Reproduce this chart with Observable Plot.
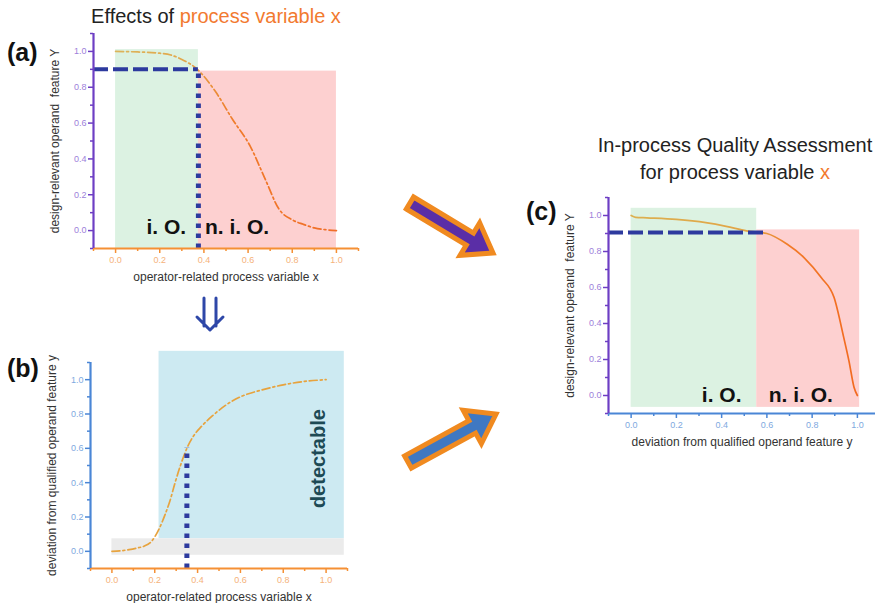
<!DOCTYPE html>
<html><head><meta charset="utf-8">
<script src="https://cdn.jsdelivr.net/npm/d3@7"></script>
<script src="https://cdn.jsdelivr.net/npm/@observablehq/plot@0.6"></script>
<style>
html,body{margin:0;padding:0;background:#fff;}
#wrap{position:relative;width:878px;height:603px;overflow:hidden;font-family:"Liberation Sans",Arial,sans-serif;}
#wrap svg{position:absolute;left:0;top:0;}
</style></head><body><div id="wrap"></div>
<script>
const W = 878, H = 603;
const FONT = "'Liberation Sans', Arial, sans-serif";

// ---------- data ----------
const ticksMajor = [0, 0.2, 0.4, 0.6, 0.8, 1.0];
const ticksMinor = [-0.1, 0.1, 0.3, 0.5, 0.7, 0.9, 1.1];

// panel (a): Y vs x
const curveAx = [0, 0.1, 0.2, 0.25, 0.3, 0.37, 0.45, 0.53, 0.61, 0.68, 0.74, 0.8, 0.85, 0.9, 0.95, 1.0];
const curveAy = [1.0, 0.997, 0.99, 0.98, 0.955, 0.9, 0.78, 0.62, 0.47, 0.28, 0.12, 0.06, 0.035, 0.015, 0.005, 0.0];
const regionsA = [
  {x1: 0, x2: 0.375, y1: -0.1, y2: 1.01, kind: "ok"},
  {x1: 0.375, x2: 1.0, y1: -0.1, y2: 0.89, kind: "nok"}
];
const labelsA = [{x: 0.23, y: 0.02, t: "i. O."}, {x: 0.55, y: 0.02, t: "n. i. O."}];
const hLineA = [{y: 0.9, x1: -0.1, x2: 0.375}];
const vLineA = [{x: 0.375, y1: -0.1, y2: 0.9}];

// panel (b): y vs x
const curveBx = [0, 0.04, 0.08, 0.12, 0.15, 0.185, 0.22, 0.25, 0.27, 0.295, 0.32, 0.35, 0.38, 0.42, 0.47, 0.53, 0.6, 0.7, 0.8, 0.9, 1.0];
const curveBy = [0, 0.003, 0.01, 0.02, 0.03, 0.058, 0.13, 0.22, 0.29, 0.4, 0.5, 0.6, 0.67, 0.73, 0.79, 0.85, 0.9, 0.94, 0.97, 0.99, 1.0];
const regionsB = [
  {x1: 0.22, x2: 1.085, y1: 0.073, y2: 1.165, kind: "det"},
  {x1: 0.0, x2: 1.085, y1: -0.023, y2: 0.073, kind: "non"}
];
const labelsB = [{x: 0.965, y: 0.54, t: "detectable"}];
const vLineB = [{x: 0.35, y1: -0.1, y2: 0.6}];

// panel (c): Y vs y
const curveCx = [0, 0.02, 0.07, 0.2, 0.33, 0.42, 0.51, 0.6, 0.69, 0.765, 0.84, 0.897, 0.94, 0.963, 0.985, 1.0];
const curveCy = [1.0, 0.99, 0.987, 0.978, 0.96, 0.94, 0.915, 0.9, 0.84, 0.765, 0.655, 0.544, 0.32, 0.19, 0.046, 0.0];
const regionsC = [
  {x1: 0, x2: 0.555, y1: -0.066, y2: 1.04, kind: "ok"},
  {x1: 0.555, x2: 1.01, y1: -0.066, y2: 0.92, kind: "nok"}
];
const labelsC = [{x: 0.40, y: 0.0, t: "i. O."}, {x: 0.75, y: 0.0, t: "n. i. O."}];
const hLineC = [{y: 0.905, x1: -0.1, x2: 0.6}];

// ---------- colors ----------
const C = {
  ok: "#dcf2e2", nok: "#fdd0d0", det: "#cdeaf2", non: "#ebebeb",
  purple: "#6d3ec4", purpleTxt: "#9d80da",
  orange: "#f59034", orangeTxt: "#f5b27a",
  blue: "#4a86d6", blueTxt: "#80a9e0",
  guide: "#2d3a9e", curveB: "#e7a33e", text: "#333"
};

const wrap = document.getElementById("wrap");

// gradients for curves
const defs = document.createElementNS("http://www.w3.org/2000/svg", "svg");
defs.setAttribute("width", 0); defs.setAttribute("height", 0);
defs.innerHTML = `<defs>
<linearGradient id="gradA" x1="0" x2="1" y1="0" y2="0">
<stop offset="0" stop-color="#dcb45a"/><stop offset="0.3" stop-color="#e2a84c"/><stop offset="0.55" stop-color="#f07a2a"/><stop offset="1" stop-color="#f06e28"/></linearGradient>
<linearGradient id="gradC" x1="0" x2="1" y1="0" y2="0">
<stop offset="0" stop-color="#dcb050"/><stop offset="0.55" stop-color="#e2a446"/><stop offset="0.7" stop-color="#f27a28"/><stop offset="1" stop-color="#f26a20"/></linearGradient>
</defs>`;
wrap.appendChild(defs);

const zip = (xs, ys) => xs.map((x, i) => ({x, y: ys[i]}));

function panel({frame: [l, r, t, b], xDomain, yDomain, xc, xt, yc, yt, xLabel, yLabel, marks}) {
  const inX = d => d >= xDomain[0] - 1e-9 && d <= xDomain[1] + 1e-9;
  const inY = d => d >= yDomain[0] - 1e-9 && d <= yDomain[1] + 1e-9;
  return Plot.plot({
    width: W, height: H,
    marginLeft: l, marginRight: W - r, marginTop: t, marginBottom: H - b,
    x: {domain: xDomain}, y: {domain: yDomain},
    style: {background: "transparent", fontFamily: FONT, overflow: "visible"},
    marks: [
      ...marks,
      Plot.axisX(ticksMinor.filter(inX), {tickSize: 3, tickFormat: () => "", stroke: xc, strokeWidth: 1.5, label: null}),
      Plot.axisX(ticksMajor, {tickSize: 5, tickPadding: 3, tickFormat: d3.format(".1f"), stroke: xc, strokeWidth: 1.5, fill: xt, fontSize: 9, label: null}),
      Plot.axisY(ticksMinor.filter(inY), {tickSize: 3, tickFormat: () => "", stroke: yc, strokeWidth: 1.5, label: null}),
      Plot.axisY(ticksMajor, {tickSize: 5, tickPadding: 2, tickFormat: d3.format(".1f"), stroke: yc, strokeWidth: 1.5, fill: yt, fontSize: 9, label: null}),
      Plot.ruleY([yDomain[0]], {stroke: xc, strokeWidth: 2.2}),
      Plot.ruleX([xDomain[0]], {stroke: yc, strokeWidth: 2.2}),
      Plot.text([xLabel], {text: d => d, frameAnchor: "bottom", textAnchor: "middle", lineAnchor: "middle", dy: 29, fontSize: 12, fill: C.text}),
      Plot.text([yLabel], {text: d => d, frameAnchor: "left", textAnchor: "middle", lineAnchor: "middle", dx: -38, rotate: -90, fontSize: 12, fill: C.text})
    ]
  });
}

// (a)
wrap.appendChild(panel({
  frame: [93, 358, 33, 248], xDomain: [-0.1, 1.1], yDomain: [-0.1, 1.1],
  xc: C.orange, xt: C.orangeTxt, yc: C.purple, yt: C.purpleTxt,
  xLabel: "operator-related process variable x",
  yLabel: "design-relevant operand  feature Y",
  marks: [
    Plot.rect(regionsA, {x1: "x1", x2: "x2", y1: "y1", y2: "y2", fill: d => C[d.kind]}),
    Plot.text(labelsA, {x: "x", y: "y", text: "t", fontSize: 21, fontWeight: "bold", fill: "#111"}),
    Plot.line(zip(curveAx, curveAy), {x: "x", y: "y", curve: "monotone-x", stroke: "url(#gradA)", strokeWidth: 1.7, strokeDasharray: "8,3,2,3"}),
    Plot.ruleY(hLineA, {y: "y", x1: "x1", x2: "x2", stroke: C.guide, strokeWidth: 4, strokeDasharray: "15,5"}),
    Plot.ruleX(vLineA, {x: "x", y1: "y1", y2: "y2", stroke: C.guide, strokeWidth: 5, strokeDasharray: "4.5,5.5"})
  ]
}));

// (b)
wrap.appendChild(panel({
  frame: [90, 347, 362, 568], xDomain: [-0.1, 1.1], yDomain: [-0.1, 1.1],
  xc: C.orange, xt: C.orangeTxt, yc: C.blue, yt: C.blueTxt,
  xLabel: "operator-related process variable x",
  yLabel: "deviation from qualified operand feature y",
  marks: [
    Plot.rect(regionsB, {x1: "x1", x2: "x2", y1: "y1", y2: "y2", fill: d => C[d.kind]}),
    Plot.text(labelsB, {x: "x", y: "y", text: "t", rotate: -90, fontSize: 20, fontWeight: "bold", fill: "#1d4a55"}),
    Plot.line(zip(curveBx, curveBy), {x: "x", y: "y", curve: "monotone-x", stroke: C.curveB, strokeWidth: 1.7, strokeDasharray: "8,3,2,3"}),
    Plot.ruleX(vLineB, {x: "x", y1: "y1", y2: "y2", stroke: C.guide, strokeWidth: 5, strokeDasharray: "4.5,5.5"})
  ]
}));

// (c)
wrap.appendChild(panel({
  frame: [608, 875, 197, 413], xDomain: [-0.1, 1.08], yDomain: [-0.1, 1.1],
  xc: C.blue, xt: C.blueTxt, yc: C.purple, yt: C.purpleTxt,
  xLabel: "deviation from qualified operand feature y",
  yLabel: "design-relevant operand  feature Y",
  marks: [
    Plot.rect(regionsC, {x1: "x1", x2: "x2", y1: "y1", y2: "y2", fill: d => C[d.kind]}),
    Plot.text(labelsC, {x: "x", y: "y", text: "t", fontSize: 21, fontWeight: "bold", fill: "#111"}),
    Plot.line(zip(curveCx, curveCy), {x: "x", y: "y", curve: "monotone-x", stroke: "url(#gradC)", strokeWidth: 1.7}),
    Plot.ruleY(hLineC, {y: "y", x1: "x1", x2: "x2", stroke: C.guide, strokeWidth: 4, strokeDasharray: "15,5"})
  ]
}));

// ---------- overlay: titles, panel letters, arrows ----------
function fatArrow(x0, y0, x1, y1, w, hw, hl) {
  const dx = x1 - x0, dy = y1 - y0, len = Math.hypot(dx, dy);
  const ux = dx / len, uy = dy / len, nx = -uy, ny = ux;
  const bx = x1 - ux * hl, by = y1 - uy * hl;
  const p = [
    [x0 + nx * w, y0 + ny * w], [bx + nx * w, by + ny * w], [bx + nx * hw, by + ny * hw],
    [x1, y1],
    [bx - nx * hw, by - ny * hw], [bx - nx * w, by - ny * w], [x0 - nx * w, y0 - ny * w]
  ];
  return p.map(q => q.map(v => v.toFixed(1)).join(",")).join(" ");
}
const ov = document.createElementNS("http://www.w3.org/2000/svg", "svg");
ov.setAttribute("width", W); ov.setAttribute("height", H);
ov.style.pointerEvents = "none";
ov.innerHTML = `
<g font-family="${FONT}">
  <text x="216" y="23" font-size="20" text-anchor="middle" fill="#222">Effects of <tspan fill="#f27a30">process variable x</tspan></text>
  <text x="735" y="152" font-size="20" text-anchor="middle" fill="#222">In-process Quality Assessment</text>
  <text x="735" y="179" font-size="20" text-anchor="middle" fill="#222">for process variable <tspan fill="#f27a30">x</tspan></text>
  <text x="7" y="61" font-size="25" font-weight="bold" fill="#111">(a)</text>
  <text x="7" y="377" font-size="25" font-weight="bold" fill="#111">(b)</text>
  <text x="526" y="220" font-size="25" font-weight="bold" fill="#111">(c)</text>
</g>
<g stroke="#2e47a8" stroke-width="3" fill="none" stroke-linecap="round" stroke-linejoin="round">
  <path d="M204,298 V326 M216,298 V326 M197,317 L210,330 L223,317"/>
</g>
<polygon points="${fatArrow(410, 203, 493, 253, 7, 19, 27)}" fill="#5a2ea6" stroke="#f08a20" stroke-width="5" stroke-linejoin="miter"/>
<polygon points="${fatArrow(408, 462, 496, 414, 7, 19, 27)}" fill="#3f78c2" stroke="#f08a20" stroke-width="5" stroke-linejoin="miter"/>
`;
wrap.appendChild(ov);
</script></body></html>
